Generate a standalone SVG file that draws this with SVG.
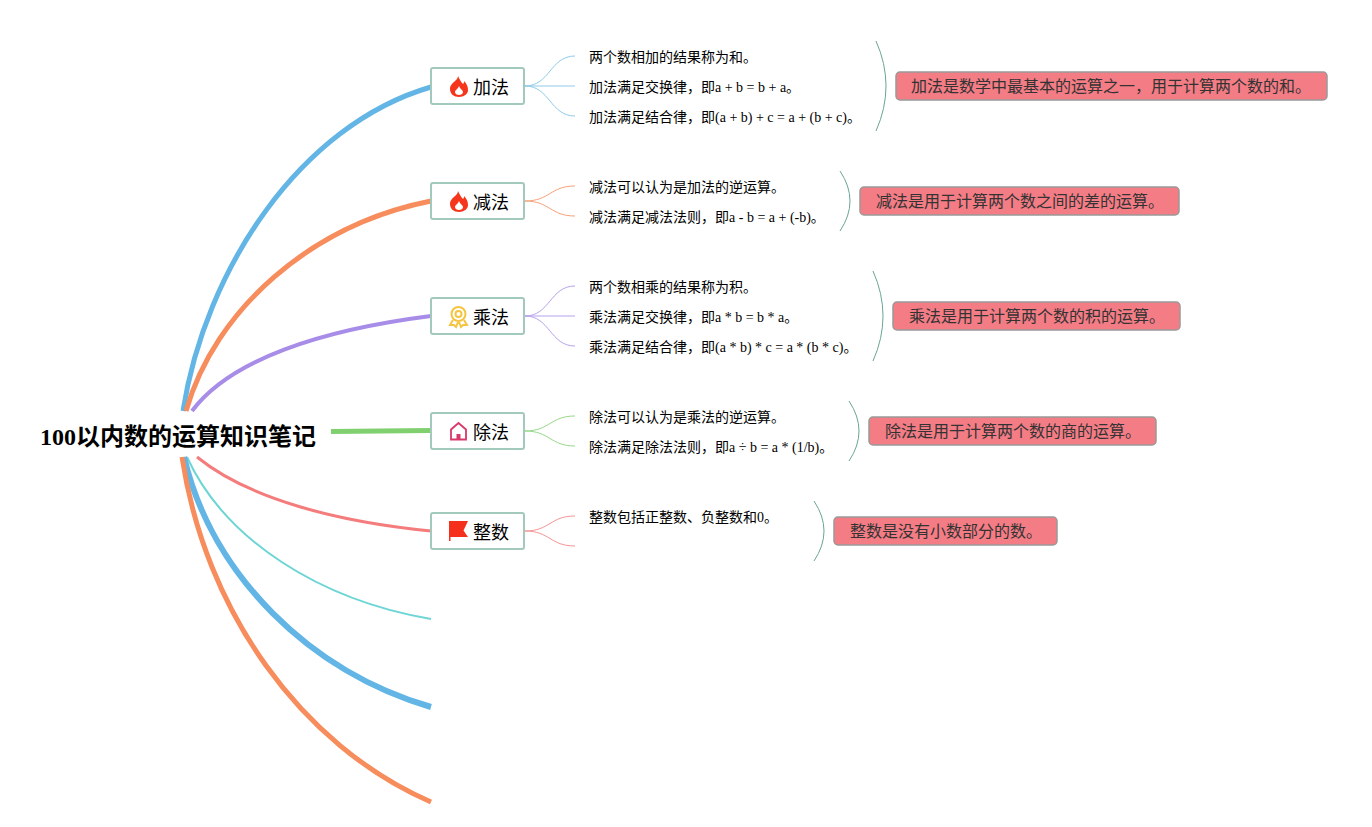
<svg xmlns="http://www.w3.org/2000/svg" width="1372" height="827" viewBox="0 0 1372 827">
<style>
text{font-family:"Liberation Serif","Noto Sans CJK SC",serif;fill:#000}
.root{font-size:24px;font-weight:700}
.n{font-size:18px}
.d{font-size:14px}
.s{font-size:16px;fill:#333}
.box{fill:#fff;stroke:#a3c9bc;stroke-width:2}
.sum{fill:#f47c85;stroke:#999;stroke-width:1.5}
.m{fill:none}
.t{fill:none;stroke-width:1}
.b{fill:none;stroke:#6aa595;stroke-width:1}
</style>
<g id="connectors">
<path class="m" stroke="#62b5e5" stroke-width="5" d="M183 411C205 270 300 125 431 87"/>
<path class="m" stroke="#f78c5c" stroke-width="5" d="M186 411C215 310 310 225 431 201"/>
<path class="m" stroke="#a78ce8" stroke-width="4" d="M192 411C230 360 320 330 431 316"/>
<path class="m" stroke="#80d070" stroke-width="5" d="M331 431.500L431 430.500"/>
<path class="m" stroke="#f47c7c" stroke-width="3" d="M197 457C250 500 340 522 431 531"/>
<path class="m" stroke="#6dd5d5" stroke-width="2" d="M187 457C225 540 320 600 431 619"/>
<path class="m" stroke="#62b5e5" stroke-width="6" d="M184 457C212 575 310 672 431 707"/>
<path class="m" stroke="#f78c5c" stroke-width="5" d="M182 457C205 610 300 745 431 802"/>
<g stroke="#8fcbe8">
<path class="t" d="M525 86C550 86 550 56 575 56"/><path class="t" d="M525 86H575"/><path class="t" d="M525 86C550 86 550 116 575 116"/>
</g>
<g stroke="#f7a07a">
<path class="t" d="M525 201C550 201 550 186 575 186"/><path class="t" d="M525 201C550 201 550 216 575 216"/>
</g>
<g stroke="#b7a2ec">
<path class="t" d="M525 316C550 316 550 286 575 286"/><path class="t" d="M525 316H575"/><path class="t" d="M525 316C550 316 550 346 575 346"/>
</g>
<g stroke="#96d888">
<path class="t" d="M525 431C550 431 550 416 575 416"/><path class="t" d="M525 431C550 431 550 446 575 446"/>
</g>
<g stroke="#f49494">
<path class="t" d="M525 531C550 531 550 516 575 516"/><path class="t" d="M525 531C550 531 550 546 575 546"/>
</g>
<path class="b" d="M876 41Q896 86 876 131"/>
<path class="b" d="M840 171Q860 201 840 231"/>
<path class="b" d="M873 271Q893 316 873 361"/>
<path class="b" d="M849 401Q869 431 849 461"/>
<path class="b" d="M814 501Q834 531 814 561"/>
</g>
<g id="root"><text class="root" x="40" y="445">100以内数的运算知识笔记</text></g>
<g id="node-add"><rect class="box" x="431" y="68" width="93" height="36" rx="2"/>
<path fill="#f5361c" d="M458 76C460 80 461 82 463 84C464 83 464 82 464 81C467 84 468 87 468 90C468 94 464 97 459 97C454 97 450 94 450 89C450 85 453 83 455 81C457 79 458 78 458 76ZM459 86C458 89 455 90 455 92C455 94 457 95 459 95C461 95 463 94 463 92C463 90 460 89 459 86Z" fill-rule="evenodd"/>
<text class="n" x="473" y="94">加法</text></g>
<g id="node-sub"><rect class="box" x="431" y="183" width="93" height="36" rx="2"/>
<path fill="#f5361c" d="M458 191C460 195 461 197 463 199C464 198 464 197 464 196C467 199 468 202 468 205C468 209 464 212 459 212C454 212 450 209 450 204C450 200 453 198 455 196C457 194 458 193 458 191ZM459 201C458 204 455 205 455 207C455 209 457 210 459 210C461 210 463 209 463 207C463 205 460 204 459 201Z" fill-rule="evenodd"/>
<text class="n" x="473" y="209">减法</text></g>
<g id="node-mul"><rect class="box" x="431" y="298" width="93" height="36" rx="2"/>
<g fill="none" stroke="#f5c542" stroke-width="2"><circle cx="458.500" cy="314" r="7"/><circle cx="458.500" cy="314" r="3"/><path d="M453 320L450 325L454 325L456 327L458 322M464 320L467 325L463 325L461 327L459 322"/></g>
<text class="n" x="473" y="324">乘法</text></g>
<g id="node-div"><rect class="box" x="431" y="413" width="93" height="36" rx="2"/>
<path fill="none" stroke="#d9386a" stroke-width="1.800" d="M451 439.500H466V429.500L458.500 423L451 429.500Z"/><path fill="#d9386a" d="M456.500 439.500V434H460.500V439.500Z"/>
<text class="n" x="473" y="439">除法</text></g>
<g id="node-int"><rect class="box" x="431" y="513" width="93" height="36" rx="2"/>
<path fill="#f5301c" d="M449 521H468L463.500 530.500L468 537H450.500V541H449Z"/>
<text class="n" x="473" y="539">整数</text></g>
<g id="d1"><text class="d" x="589" y="62">两个数相加的结果称为和。</text><text class="d" x="589" y="92">加法满足交换律，即a + b = b + a。</text><text class="d" x="589" y="122">加法满足结合律，即(a + b) + c = a + (b + c)。</text></g>
<g id="d2"><text class="d" x="589" y="192">减法可以认为是加法的逆运算。</text><text class="d" x="589" y="222">减法满足减法法则，即a - b = a + (-b)。</text></g>
<g id="d3"><text class="d" x="589" y="292">两个数相乘的结果称为积。</text><text class="d" x="589" y="322">乘法满足交换律，即a * b = b * a。</text><text class="d" x="589" y="352">乘法满足结合律，即(a * b) * c = a * (b * c)。</text></g>
<g id="d4"><text class="d" x="589" y="422">除法可以认为是乘法的逆运算。</text><text class="d" x="589" y="452">除法满足除法法则，即a ÷ b = a * (1/b)。</text></g>
<g id="d5"><text class="d" x="589" y="522">整数包括正整数、负整数和0。</text></g>
<g id="s1"><rect class="sum" x="896" y="72" width="431" height="28" rx="4"/><text class="s" x="911" y="92">加法是数学中最基本的运算之一，用于计算两个数的和。</text></g>
<g id="s2"><rect class="sum" x="860" y="187" width="319" height="28" rx="4"/><text class="s" x="876" y="207">减法是用于计算两个数之间的差的运算。</text></g>
<g id="s3"><rect class="sum" x="893" y="302" width="287" height="28" rx="4"/><text class="s" x="909" y="322">乘法是用于计算两个数的积的运算。</text></g>
<g id="s4"><rect class="sum" x="869" y="417" width="287" height="28" rx="4"/><text class="s" x="885" y="437">除法是用于计算两个数的商的运算。</text></g>
<g id="s5"><rect class="sum" x="834" y="517" width="223" height="28" rx="4"/><text class="s" x="850" y="537">整数是没有小数部分的数。</text></g>
</svg>
